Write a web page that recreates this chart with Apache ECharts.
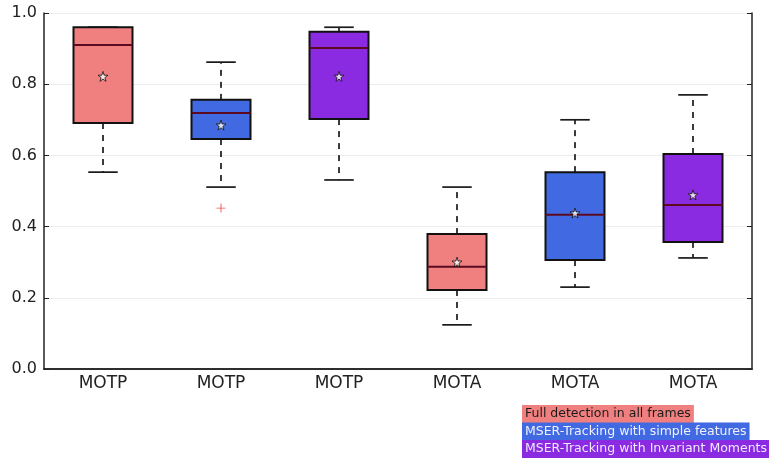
<!DOCTYPE html>
<html><head><meta charset="utf-8">
<script src="https://cdn.jsdelivr.net/npm/echarts@6/dist/echarts.min.js"></script>
<style>html,body{margin:0;padding:0;background:#fff}#c{width:769px;height:461px}</style>
</head><body><div id="c"></div>
<script>
const categories = ['MOTP','MOTP','MOTP','MOTA','MOTA','MOTA'];
const lowWhisker = [0.553, 0.511, 0.531, 0.124, 0.230, 0.312];
const q1 = [0.691, 0.646, 0.702, 0.222, 0.306, 0.357];
const median = [0.910, 0.719, 0.902, 0.287, 0.433, 0.461];
const q3 = [0.960, 0.756, 0.947, 0.379, 0.553, 0.604];
const highWhisker = [0.960, 0.862, 0.960, 0.511, 0.700, 0.770];
const means = [0.822, 0.685, 0.822, 0.300, 0.438, 0.489];
const outliers = [[1, 0.452]];
const yTicks = [0, 0.2, 0.4, 0.6, 0.8, 1.0];
const legendNames = ['Full detection in all frames','MSER-Tracking with simple features','MSER-Tracking with Invariant Moments'];
const colors = ['#F08080','#4169E1','#8A2BE2'];

const boxData = categories.map((c,i)=>[i, lowWhisker[i], q1[i], median[i], q3[i], highWhisker[i]]);
const meanData = means.map((m,i)=>[i,m]);

const chart = echarts.init(document.getElementById('c'));
const frame = '#222';
function renderBox(params, api){
  const i = api.value(0);
  const lo = api.coord([i, api.value(1)]);
  const b1 = api.coord([i, api.value(2)]);
  const md = api.coord([i, api.value(3)]);
  const b3 = api.coord([i, api.value(4)]);
  const hi = api.coord([i, api.value(5)]);
  const bw = api.size([1,0])[0]*0.5;
  const cw = bw*0.5;
  const x = lo[0];
  const col = colors[i%3];
  const dash = {stroke:'#1a1a1a', lineWidth:1.7, lineDash:[6,6]};
  const solid = {stroke:'#1a1a1a', lineWidth:1.7};
  return {type:'group', children:[
    {type:'line', shape:{x1:x,y1:b1[1],x2:x,y2:lo[1]}, style:dash},
    {type:'line', shape:{x1:x,y1:b3[1],x2:x,y2:hi[1]}, style:dash},
    {type:'line', shape:{x1:x-cw/2,y1:lo[1],x2:x+cw/2,y2:lo[1]}, style:solid},
    {type:'line', shape:{x1:x-cw/2,y1:hi[1],x2:x+cw/2,y2:hi[1]}, style:solid},
    {type:'rect', shape:{x:x-bw/2,y:b3[1],width:bw,height:b1[1]-b3[1]}, style:{fill:col, stroke:'#111', lineWidth:2}},
    {type:'line', shape:{x1:x-bw/2,y1:md[1],x2:x+bw/2,y2:md[1]}, style:{stroke:'#5c0a20', lineWidth:2}}
  ]};
}
const starPath = 'path://M50,0 L61,35 L98,35 L68,57 L79,91 L50,70 L21,91 L32,57 L2,35 L39,35 Z';
const plusPath = 'path://M4.5,0h1v10h-1zM0,4.5h10v1h-10z';
const legStyle = {fontSize:12.5, fontFamily:'DejaVu Sans', lineHeight:15, padding:[1.5,3,1.5,3]};
chart.setOption({
  animation:false,
  grid:{left:44, right:17, top:13, bottom:92},
  xAxis:[
    {type:'category', data:categories, position:'bottom',
     axisLine:{lineStyle:{color:frame, width:1.5}},
     axisTick:{inside:true, alignWithLabel:true, length:5, lineStyle:{color:frame}},
     axisLabel:{color:'#222', fontSize:17, fontFamily:'DejaVu Sans', margin:6}},
    {type:'category', data:categories, position:'top',
     axisLine:{lineStyle:{color:frame, width:1.5}},
     axisTick:{inside:true, alignWithLabel:true, length:5, lineStyle:{color:frame}},
     axisLabel:{show:false}}
  ],
  yAxis:[
    {type:'value', min:0, max:1, interval:0.2, position:'left',
     axisLine:{show:true, lineStyle:{color:frame, width:1.5}},
     axisTick:{show:true, inside:true, length:5, lineStyle:{color:frame}},
     splitLine:{show:true, lineStyle:{color:'#ececec', width:1}},
     axisLabel:{color:'#222', fontSize:16, fontFamily:'DejaVu Sans', margin:7, formatter:v=>v.toFixed(1)}},
    {type:'value', min:0, max:1, interval:0.2, position:'right',
     axisLine:{show:true, lineStyle:{color:frame, width:1.5}},
     axisTick:{show:true, inside:true, length:5, lineStyle:{color:frame}},
     splitLine:{show:false}, axisLabel:{show:false}}
  ],
  series:[
    {type:'custom', renderItem:renderBox, data:boxData, encode:{x:0,y:[1,2,3,4,5]}, z:3},
    {type:'scatter', data:meanData, symbol:starPath, symbolSize:10, z:5,
     itemStyle:{color:'#fff', borderColor:'#111', borderWidth:1}},
    {type:'scatter', data:outliers, symbol:plusPath, symbolSize:9, z:5,
     itemStyle:{color:'#f02020'}}
  ],
  graphic:[
    {type:'text', left:522, top:405, style:Object.assign({text:legendNames[0], fill:'#1a1a1a', backgroundColor:colors[0]}, legStyle)},
    {type:'text', left:522, top:422.5, style:Object.assign({text:legendNames[1], fill:'#f0f0ff', backgroundColor:colors[1]}, legStyle)},
    {type:'text', left:522, top:440, style:Object.assign({text:legendNames[2], fill:'#f0e8ff', backgroundColor:colors[2]}, legStyle)}
  ]
});
</script></body></html>
